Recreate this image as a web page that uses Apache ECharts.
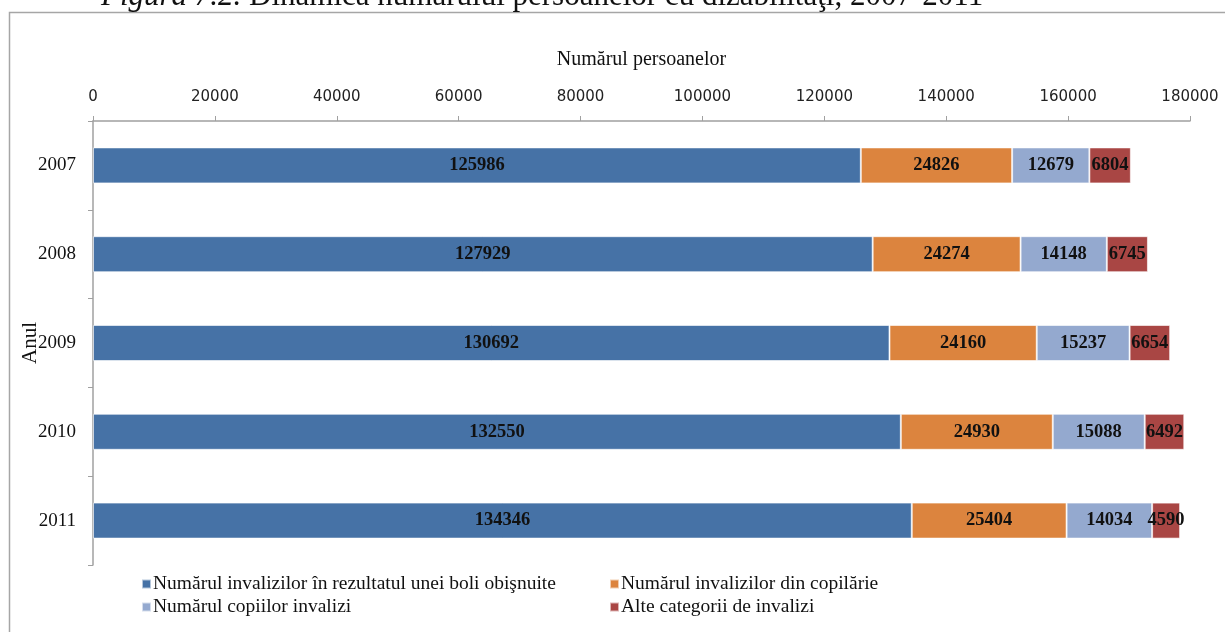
<!DOCTYPE html>
<html>
<head>
<meta charset="utf-8">
<script src="https://cdn.jsdelivr.net/npm/echarts@6/dist/echarts.min.js"></script>
<style>
  html, body { margin: 0; padding: 0; background: #fff; }
  #chart { width: 1225px; height: 632px; }
</style>
</head>
<body>
<div id="chart"></div>
<script>
// Years shown on the category axis
const years = ['2007', '2008', '2009', '2010', '2011'];

// Series names
const seriesNames = [
  'Numărul invalizilor în rezultatul unei boli obişnuite',
  'Numărul invalizilor din copilărie',
  'Numărul copiilor invalizi',
  'Alte categorii de invalizi'
];

// Values per category of disability
const boliObisnuite = [125986, 127929, 130692, 132550, 134346];
const dinCopilarie  = [24826, 24274, 24160, 24930, 25404];
const copiiInvalizi = [12679, 14148, 15237, 15088, 14034];
const alteCategorii = [6804, 6745, 6654, 6492, 4590];

const seriesColors = ['#4672a6', '#dc843e', '#94a9cf', '#a94644'];

const serif = '"Liberation Serif", "Times New Roman", serif';

const chart = echarts.init(document.getElementById('chart'), null, { renderer: 'canvas' });

const makeSeries = (name, data, color) => ({
  name: name,
  type: 'bar',
  stack: 'total',
  data: data,
  barWidth: 36,
  itemStyle: { color: color, borderColor: 'rgba(255,255,255,0.6)', borderWidth: 1 },
  label: {
    show: true,
    position: 'inside',
    color: '#111',
    fontFamily: serif,
    fontWeight: 'bold',
    fontSize: 18.5
  },
  emphasis: { disabled: true }
});

const legendText = { fontFamily: serif, fontSize: 19.5, color: '#111', padding: [0, 0, 0, -3] };

chart.setOption({
  animation: false,
  backgroundColor: '#fff',
  title: {
    text: '{i|Figura 7.2.} Dinamica numărului persoanelor cu dizabilităţi, 2007-2011',
    left: 101,
    top: -19,
    padding: 0,
    textStyle: {
      fontFamily: serif,
      fontSize: 31,
      fontWeight: 'normal',
      color: '#111',
      rich: {
        i: { fontFamily: serif, fontSize: 31, fontStyle: 'italic', color: '#111' }
      }
    }
  },
  graphic: [{
    type: 'rect',
    shape: { x: 9.5, y: 12.5, width: 1300, height: 700 },
    style: { fill: 'none', stroke: '#a6a6a6', lineWidth: 1.5 },
    silent: true
  }],
  legend: [
    {
      orient: 'vertical',
      left: 136,
      top: 569,
      itemGap: 3,
      itemWidth: 9,
      itemHeight: 9,
      icon: 'rect',
      data: [seriesNames[0], seriesNames[2]],
      textStyle: legendText,
      selectedMode: false
    },
    {
      orient: 'vertical',
      left: 604,
      top: 569,
      itemGap: 3,
      itemWidth: 9,
      itemHeight: 9,
      icon: 'rect',
      data: [seriesNames[1], seriesNames[3]],
      textStyle: legendText,
      selectedMode: false
    }
  ],
  grid: { left: 93, right: 35, top: 121, bottom: 67, containLabel: false },
  xAxis: {
    type: 'value',
    position: 'top',
    min: 0,
    max: 180000,
    interval: 20000,
    name: 'Numărul persoanelor',
    nameLocation: 'middle',
    nameGap: 51,
    nameTextStyle: { fontFamily: serif, fontSize: 20, color: '#111' },
    axisLine: { show: true, lineStyle: { color: '#a0a0a0', width: 1.5 } },
    axisTick: { show: true, inside: false, length: 5, lineStyle: { color: '#a0a0a0' } },
    axisLabel: {
      fontFamily: '"DejaVu Sans", sans-serif',
      fontSize: 15,
      color: '#222',
      margin: 16,
      formatter: (v) => String(v)
    },
    splitLine: { show: false }
  },
  yAxis: {
    type: 'category',
    data: years,
    inverse: true,
    name: 'Anul',
    nameLocation: 'middle',
    nameGap: 52,
    nameRotate: 90,
    nameMoveOverlap: false,
    nameTextStyle: { fontFamily: serif, fontSize: 21, color: '#111' },
    axisLine: { show: true, lineStyle: { color: '#a0a0a0', width: 1.5 } },
    axisTick: { show: true, inside: false, length: 5, lineStyle: { color: '#a0a0a0' } },
    axisLabel: { fontFamily: serif, fontSize: 19, color: '#111', margin: 17 }
  },
  series: [
    makeSeries(seriesNames[0], boliObisnuite, seriesColors[0]),
    makeSeries(seriesNames[1], dinCopilarie, seriesColors[1]),
    makeSeries(seriesNames[2], copiiInvalizi, seriesColors[2]),
    makeSeries(seriesNames[3], alteCategorii, seriesColors[3])
  ]
});
</script>
</body>
</html>
